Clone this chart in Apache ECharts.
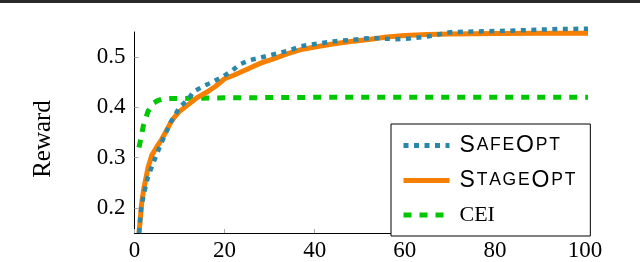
<!DOCTYPE html>
<html>
<head>
<meta charset="utf-8">
<script src="https://cdn.jsdelivr.net/npm/echarts@6/dist/echarts.min.js"></script>
<style>html,body{margin:0;padding:0;background:#fff}#c{width:640px;height:262px}</style>
</head>
<body>
<div id="c"></div>
<script>
var seriesNames = ['SafeOpt', 'StageOpt', 'CEI'];
var xTicks = [0, 20, 40, 60, 80, 100];
var yTicks = [0.2, 0.3, 0.4, 0.5];

var safeX = [1, 1.5, 2, 3, 4.5, 6, 8, 10, 12, 13, 15.3, 17.5, 19.7, 21.6, 23.4, 25.6, 27.9, 30.1, 32.3, 34.5, 36.7, 39, 41.6, 44.1, 46.3, 48.6, 50.8, 53, 55, 58, 61, 65, 70, 75, 81, 88, 94, 103];
var safeY = [0.15, 0.2, 0.225, 0.262, 0.297, 0.33, 0.37, 0.4, 0.417, 0.4306, 0.4423, 0.4513, 0.4618, 0.4727, 0.4858, 0.494, 0.4988, 0.504, 0.5086, 0.5136, 0.5214, 0.5248, 0.528, 0.531, 0.533, 0.5345, 0.537, 0.538, 0.537, 0.5358, 0.537, 0.541, 0.5495, 0.551, 0.552, 0.554, 0.556, 0.5565];

var stageX = [1, 1.6, 2, 3, 3.8, 5, 6, 7, 8, 9, 10, 12, 14, 16, 18, 20, 22, 25, 28, 31, 34, 37, 40, 44, 48, 52, 56, 60, 65, 70, 80, 90, 103];
var stageY = [0.15, 0.21, 0.235, 0.28, 0.304, 0.322, 0.336, 0.352, 0.369, 0.382, 0.392, 0.406, 0.42, 0.43, 0.442, 0.457, 0.464, 0.476, 0.488, 0.497, 0.507, 0.515, 0.52, 0.526, 0.531, 0.535, 0.54, 0.543, 0.545, 0.546, 0.547, 0.5475, 0.5475];

var ceiX = [1, 2, 3, 4, 5, 6, 8, 12, 20, 40, 70, 103];
var ceiY = [0.32, 0.365, 0.392, 0.407, 0.413, 0.416, 0.4175, 0.418, 0.419, 0.42, 0.42, 0.42];

function pairs(xs, ys) { return xs.map(function (x, i) { return [x, ys[i]]; }); }

function smallCaps(name) {
  if (name === 'CEI') return '{c|CEI}';
  var out = '';
  for (var i = 0; i < name.length; i++) {
    var ch = name[i];
    var last = i === name.length - 1;
    var isUp = ch === ch.toUpperCase();
    out += '{' + (isUp ? 'b' : 's') + (last ? 'e' : '') + '|' + ch.toUpperCase() + '}';
  }
  return out;
}

var chart = echarts.init(document.getElementById('c'), null, {renderer: 'canvas'});
var pad = 1.8;
var bigF = 23, smallF = 17.5;
chart.setOption({
  animation: false,
  backgroundColor: '#fff',
  grid: {left: 134.5, right: 55, top: 32, bottom: 25, containLabel: false},
  xAxis: {
    type: 'value', min: 0, max: 100, interval: 20,
    axisLine: {lineStyle: {color: '#000', width: 1}},
    axisTick: {inside: true, length: 4, lineStyle: {color: '#aaa'}},
    axisLabel: {color: '#000', fontFamily: 'Liberation Serif', fontSize: 23, margin: 6},
    splitLine: {show: false}
  },
  yAxis: {
    type: 'value', min: 0.15, max: 0.55,
    axisLine: {show: true, lineStyle: {color: '#000', width: 1}},
    axisTick: {show: true, inside: true, length: 4, customValues: yTicks, lineStyle: {color: '#aaa'}},
    axisLabel: {color: '#000', fontFamily: 'Liberation Serif', fontSize: 23, margin: 9, customValues: yTicks,
      formatter: function (v) { return v.toFixed(1); }},
    splitLine: {show: false}
  },
  legend: {
    orient: 'vertical', left: 391, top: 124,
    data: seriesNames,
    backgroundColor: '#fff', borderColor: '#000', borderWidth: 1, borderRadius: 0,
    padding: [10, 15, 10, 10],
    itemWidth: 46, itemHeight: 20, itemGap: 12,
    itemStyle: {opacity: 0},
    lineStyle: {width: 5},
    formatter: smallCaps,
    textStyle: {
      color: '#000', padding: [0, 0, 0, 5],
      rich: {
        b: {fontFamily: 'Liberation Sans', fontSize: bigF, lineHeight: 20, padding: [0, pad, 0, 0], color: '#000'},
        s: {fontFamily: 'Liberation Sans', fontSize: smallF, lineHeight: 20, padding: [0, pad, 0, 0], color: '#000'},
        be: {fontFamily: 'Liberation Sans', fontSize: bigF, lineHeight: 20, color: '#000'},
        se: {fontFamily: 'Liberation Sans', fontSize: smallF, lineHeight: 20, color: '#000'},
        c: {fontFamily: 'Liberation Serif', fontSize: 22, lineHeight: 20, color: '#000'}
      }
    }
  },
  graphic: [
    {type: 'rect', shape: {x: 0, y: 0, width: 640, height: 3}, style: {fill: '#2a2a2a'}, z: 100},
    {type: 'text', x: 43, y: 139, rotation: Math.PI / 2,
      style: {text: 'Reward', fontFamily: 'Liberation Serif', fontSize: 25, fill: '#000', textAlign: 'center', textVerticalAlign: 'middle'}}
  ],
  series: [
    {name: 'SafeOpt', type: 'line', data: pairs(safeX, safeY), symbol: 'none', clip: false, z: 3,
      lineStyle: {color: '#2b87aa', width: 4.5, type: [5, 5.5], cap: 'butt'}, itemStyle: {color: '#2b87aa', opacity: 0}},
    {name: 'StageOpt', type: 'line', data: pairs(stageX, stageY), symbol: 'none', clip: false, z: 2,
      lineStyle: {color: '#f77f00', width: 5}, itemStyle: {color: '#f77f00', opacity: 0}},
    {name: 'CEI', type: 'line', data: pairs(ceiX, ceiY), symbol: 'none', clip: false, z: 1,
      lineStyle: {color: '#00c800', width: 5, type: [8, 8], cap: 'butt'}, itemStyle: {color: '#00c800', opacity: 0}}
  ]
});
</script>
</body>
</html>
